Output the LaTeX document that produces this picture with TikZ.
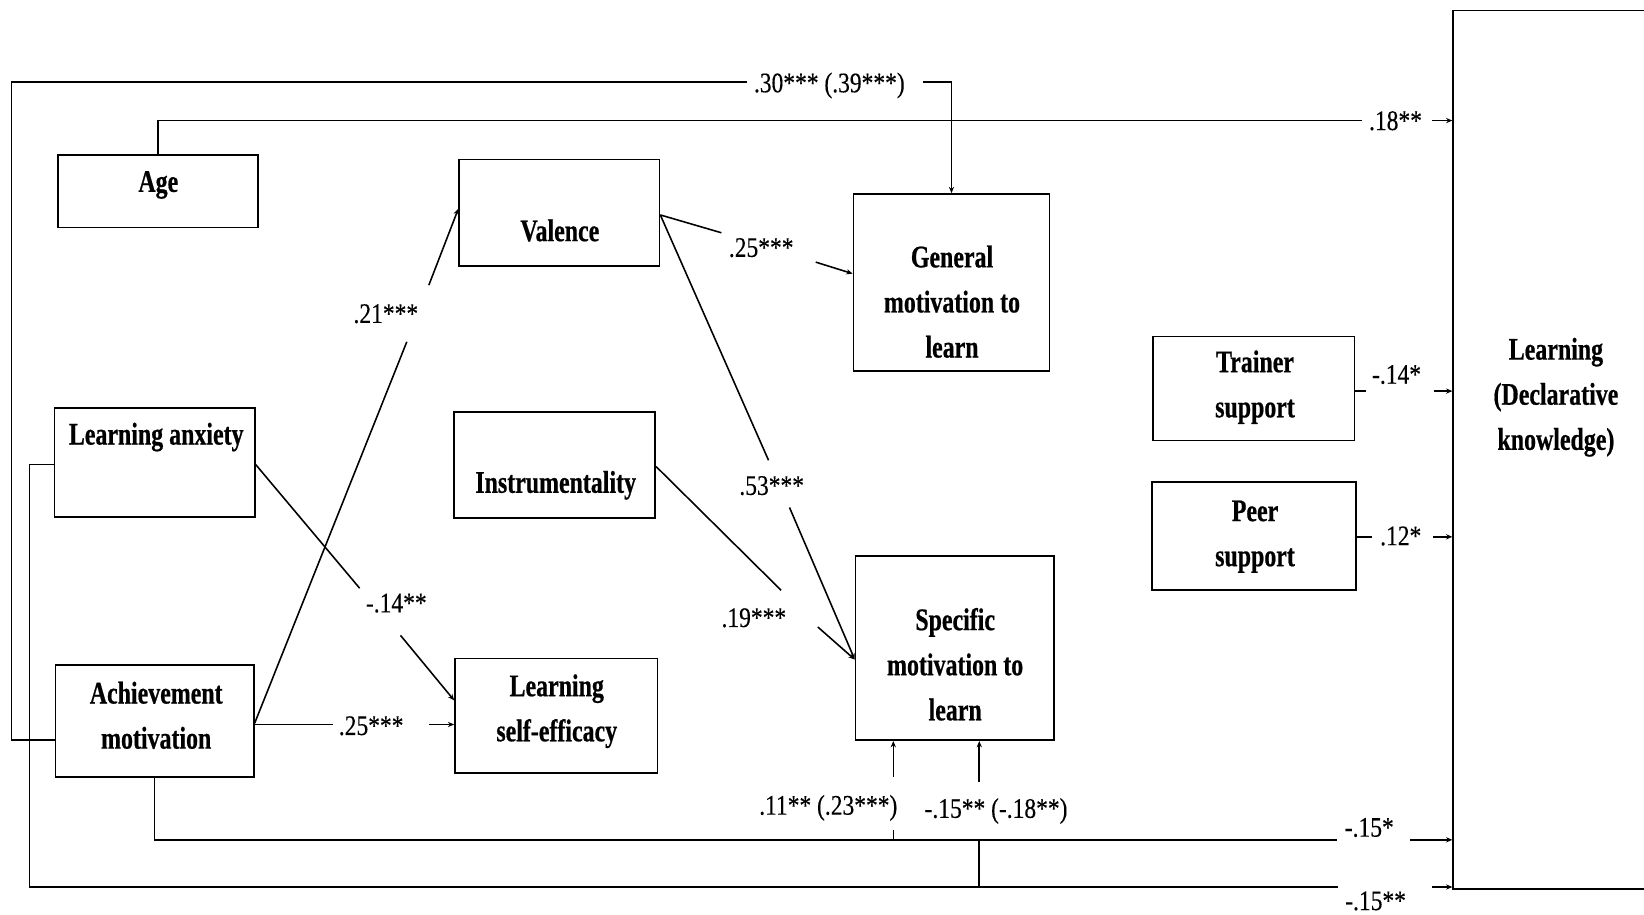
\documentclass[tikz,border=0pt]{standalone}
\usepackage{fontspec}
\newfontfamily\boxfont{Liberation Serif}[FakeStretch=0.76,FakeBold=0.6]
\newfontfamily\lblfont{Liberation Serif}[FakeStretch=0.83,FakeBold=0.25]
\usetikzlibrary{arrows.meta}
\begin{document}
\begin{tikzpicture}[x=1pt,y=-1pt,
  ln/.style={line width=1.5pt},
  arr/.style={ln,-{Stealth[length=6pt,width=5pt]}},
  box/.style={draw,line width=1.6pt,inner sep=0pt},
  bt/.style={font=\boxfont\bfseries\fontsize{30}{36}\selectfont,anchor=base,inner sep=0pt},
  lbl/.style={font=\lblfont\fontsize{27}{32}\selectfont,anchor=base,inner sep=0pt}]
\useasboundingbox (0,0) rectangle (1568,872);
\clip (0,0) rectangle (1568,872);

% ---- boxes ----
\node[box,minimum width=191,minimum height=69]  (age)  at (150.5,182.5) {};
\node[box,minimum width=191,minimum height=102] (val)  at (533.5,203)   {};
\node[box,minimum width=187,minimum height=169] (gen)  at (907.5,269.5) {};
\node[box,minimum width=191,minimum height=104] (anx)  at (147.5,441)   {};
\node[box,minimum width=192,minimum height=101] (ins)  at (529,443.5)   {};
\node[box,minimum width=189,minimum height=107] (ach)  at (147.5,687.5) {};
\node[box,minimum width=193,minimum height=109] (lse)  at (530.5,682.5) {};
\node[box,minimum width=189,minimum height=176] (spe)  at (910.5,618)   {};
\node[box,minimum width=192,minimum height=99]  (trn)  at (1196,370.5)  {};
\node[box,minimum width=194,minimum height=103] (peer) at (1196,511.5)  {};
\node[box,minimum width=194,minimum height=838] (lrn)  at (1483,429)    {};

% ---- box texts ----
\node[bt] (age-t)  at (151,183) {Age};
\node[bt] (val-t)  at (534,230) {Valence};
\node[bt] (gen-1)  at (908,255) {General};
\node[bt] (gen-2)  at (908,298) {motivation to};
\node[bt] (gen-3)  at (908,341) {learn};
\node[bt] (anx-t)  at (149,424) {Learning anxiety};
\node[bt] (ins-t)  at (530,470) {Instrumentality};
\node[bt] (ach-1)  at (149,671) {Achievement};
\node[bt] (ach-2)  at (149,714) {motivation};
\node[bt] (lse-1)  at (531,664) {Learning};
\node[bt] (lse-2)  at (531,707) {self-efficacy};
\node[bt] (spe-1)  at (911,601) {Specific};
\node[bt] (spe-2)  at (911,644) {motivation to};
\node[bt] (spe-3)  at (911,687) {learn};
\node[bt] (trn-1)  at (1197,355) {Trainer};
\node[bt] (trn-2)  at (1197,398) {support};
\node[bt] (peer-1) at (1197,497) {Peer};
\node[bt] (peer-2) at (1197,540) {support};
\node[bt] (lrn-1)  at (1484,343) {Learning};
\node[bt] (lrn-2)  at (1484,386) {(Declarative};
\node[bt] (lrn-3)  at (1484,429) {knowledge)};

% ---- path labels ----
\node[lbl] (l30)  at (791,88)   {.30*** (.39***)};
\node[lbl] (l18)  at (1331,124) {.18**};
\node[lbl] (l25a) at (726,245)  {.25***};
\node[lbl] (l21)  at (368,308)  {.21***};
\node[lbl] (l53)  at (736,472)  {.53***};
\node[lbl] (l19)  at (719,598)  {.19***};
\node[lbl] (l14)  at (378,584)  {-.14**};
\node[lbl] (l25b) at (354,701)  {.25***};
\node[lbl] (l14s) at (1332,366) {-.14*};
\node[lbl] (l12)  at (1336,520) {.12*};
\node[lbl] (l11)  at (790,777)  {.11** (.23***)};
\node[lbl] (l15m) at (950,780)  {-.15** (-.18**)};
\node[lbl] (l15a) at (1306,798) {-.15*};
\node[lbl] (l15b) at (1312,868) {-.15**};

% ---- gap end points ----
\coordinate (tl)   at (11,78);
\coordinate (g30a) at (712,78);   \coordinate (g30b) at (880,78);
\coordinate (g18a) at (1299,115); \coordinate (g18b) at (1366,115);
\coordinate (g25a) at (688,222);  \coordinate (g25b) at (778,250);
\coordinate (g53a) at (733,439);  \coordinate (g53b) at (753,484);
\coordinate (g19a) at (745,563);  \coordinate (g19b) at (780,598);
\coordinate (g21a) at (388,326);  \coordinate (g21b) at (409,272);
\coordinate (g14a) at (343,561);  \coordinate (g14b) at (382,606);
\coordinate (g25c) at (318,691);  \coordinate (g25d) at (409,691);
\coordinate (gtra) at (1303,373); \coordinate (gtrb) at (1368,373);
\coordinate (gpea) at (1309,512); \coordinate (gpeb) at (1367,512);
\coordinate (g15a) at (1275,801); \coordinate (g15b) at (1345,801);
\coordinate (g15c) at (1276,846); \coordinate (g15d) at (1366,846);
\coordinate (b11a) at (852,801);  \coordinate (b11b) at (852,792);  \coordinate (b11c) at (852,741);
\coordinate (b15a) at (934,846);  \coordinate (b15b) at (934,801);  \coordinate (b15c) at (934,746);

% ---- connectors ----
% achievement motivation -> general motivation (outer loop)
\draw[ln] (ach.west |- 0,706) -| (tl) -- (g30a);
\draw[arr] (g30b) -| (gen.north);
% age -> learning
\draw[ln] (age.north) |- (g18a);
\draw[arr] (g18b) -- (lrn.west |- g18b);
% valence -> general motivation
\draw[ln] (val.east |- 0,205) -- (g25a);
\draw[arr] (g25b) -- (gen.west |- 0,261);
% valence -> specific motivation
\draw[ln] (val.east |- 0,205) -- (g53a);
\draw[arr] (g53b) -- (spe.west |- 0,629);
% instrumentality -> specific motivation
\draw[ln] (ins.east |- 0,445) -- (g19a);
\draw[arr] (g19b) -- (spe.west |- 0,629);
% achievement motivation -> valence
\draw[ln] (ach.east |- 0,690) -- (g21a);
\draw[arr] (g21b) -- (val.west |- 0,199);
% learning anxiety -> self-efficacy
\draw[ln] (anx.east |- 0,443) -- (g14a);
\draw[arr] (g14b) -- (lse.west |- 0,668);
% achievement motivation -> self-efficacy
\draw[ln] (ach.east |- g25c) -- (g25c);
\draw[arr] (g25d) -- (lse.west |- g25d);
% trainer / peer support -> learning
\draw[ln] (trn.east |- gtra) -- (gtra);
\draw[arr] (gtrb) -- (lrn.west |- gtrb);
\draw[ln] (peer.east |- gpea) -- (gpea);
\draw[arr] (gpeb) -- (lrn.west |- gpeb);
% achievement motivation -> learning (bottom)
\draw[ln] (ach.south) |- (g15a);
\draw[arr] (g15b) -- (lrn.west |- g15b);
% learning anxiety -> learning (bottom)
\draw[ln] (anx.west |- 0,443) -| (28,846) -- (g15c);
\draw[arr] (g15d) -- (lrn.west |- g15d);
% branches into specific motivation
\draw[ln] (b11a) -- (b11b);
\draw[arr] (b11c) -- (spe.south -| b11c);
\draw[ln] (b15a) -- (b15b);
\draw[arr] (b15c) -- (spe.south -| b15c);
\end{tikzpicture}
\end{document}
